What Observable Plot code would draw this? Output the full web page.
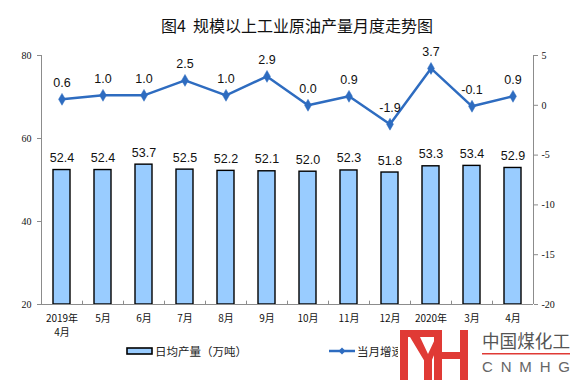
<!DOCTYPE html>
<html>
<head>
<meta charset="utf-8">
<script src="https://cdn.jsdelivr.net/npm/d3@7"></script>
<script src="https://cdn.jsdelivr.net/npm/@observablehq/plot@0.6"></script>
<style>
  html, body { margin: 0; padding: 0; background: #fff; }
  #wrap { position: relative; width: 576px; height: 384px; overflow: hidden; font-family: "Noto Sans CJK SC", "Liberation Sans", sans-serif; }
  #title { height: 40px; line-height: 50px; font-size: 16px; font-weight: normal; text-align: center; padding-left: 18px; color: #111; white-space: nowrap; }
  #legend { position: absolute; top: 341px; left: 0; width: 576px; height: 20px; font-size: 11.5px; color: #222; }
  .lg { position: absolute; top: 0; height: 20px; line-height: 20px; white-space: nowrap; }
  #wm { position: absolute; left: 398px; top: 326px; width: 178px; height: 58px; background: #fff; }
</style>
</head>
<body>
<div id="wrap">
  <div id="title">图4&nbsp;&nbsp;规模以上工业原油产量月度走势图</div>
  <div id="chart"></div>
  <div id="legend">
    <div class="lg" style="left:126px;">
      <svg width="27" height="20" style="vertical-align:top"><rect x="1" y="7" width="25" height="6" fill="#99ccff" stroke="#000" stroke-width="1.6"/></svg>
    </div>
    <div class="lg" style="left:155px;">日均产量（万吨）</div>
    <div class="lg" style="left:329px;">
      <svg width="27" height="20" style="vertical-align:top"><line x1="0" y1="10" x2="26" y2="10" stroke="#2e6cc0" stroke-width="2.5"/><path d="M13,6.5 L16.5,10 L13,13.5 L9.5,10 Z" fill="#2e6cc0"/></svg>
    </div>
    <div class="lg" style="left:357px;">当月增速（%）</div>
  </div>
  <div id="wm">
    <svg width="178" height="58">
      <g fill="#e03a35">
        <rect x="2" y="4" width="8" height="50"/>
        <rect x="2" y="4" width="42" height="7"/>
        <polygon points="12,11 22,11 30,28 38,11 44,11 33,36 27,36"/>
        <rect x="26" y="30" width="8" height="24"/>
        <rect x="36" y="4" width="8" height="50"/>
        <rect x="36" y="26" width="34" height="7"/>
        <rect x="62" y="4" width="8" height="50"/>
      </g>
      <text x="84" y="22" font-family="Noto Sans CJK SC" font-size="18" fill="#555" textLength="88" lengthAdjust="spacingAndGlyphs">中国煤化工</text>
      <rect x="84" y="27" width="88" height="1.5" fill="#e03a35"/>
      <text x="84" y="46" font-family="Liberation Sans" font-size="15" fill="#666" textLength="88" lengthAdjust="spacing">CNMHG</text>
    </svg>
  </div>
</div>
<script>
const months = ["2019年\n4月", "5月", "6月", "7月", "8月", "9月", "10月", "11月", "12月", "2020年\n1-2月", "3月", "4月"];
const output = [52.4, 52.4, 53.7, 52.5, 52.2, 52.1, 52.0, 52.3, 51.8, 53.3, 53.4, 52.9];
const growth = [0.6, 1.0, 1.0, 2.5, 1.0, 2.9, 0.0, 0.9, -1.9, 3.7, -0.1, 0.9];
const leftTicks = [20, 40, 60, 80];
const rightTicks = [-20, -15, -10, -5, 0, 5];

// right axis (-20..5) mapped onto left axis (20..80)
const toLeft = v => 20 + (v + 20) * 60 / 25;
const toRight = y => (y - 20) * 25 / 60 - 20;

const data = months.map((m, i) => ({m, out: output[i], g: growth[i], gy: toLeft(growth[i])}));

const axisColor = "#8c8c8c";
const lineColor = "#2e6cc0";

const plot = Plot.plot({
  width: 576,
  height: 300,
  marginTop: 15,
  marginBottom: 36,
  marginLeft: 41,
  marginRight: 43,
  style: {background: "#fff", color: "#111"},
  x: {domain: months, padding: 0, label: null},
  y: {domain: [20, 80], label: null},
  marks: [
    Plot.barY(data, {x: "m", y1: 20, y2: "out", fill: "#99ccff", stroke: "#000", strokeWidth: 1.4, insetLeft: 12, insetRight: 12}),
    Plot.ruleY([20], {stroke: axisColor, strokeWidth: 1}),
    Plot.ruleX([months[0]], {y1: 20, y2: 80, dx: -20.5, stroke: axisColor}),
    Plot.ruleX([months[months.length - 1]], {y1: 20, y2: 80, dx: 20.5, stroke: axisColor}),
    Plot.ruleX(months.slice(0, -1), {y1: 20, y2: 20.8, dx: 20.5, stroke: axisColor}),
    Plot.text(data, {x: "m", y: "out", text: d => d.out.toFixed(1), dy: -12, fontSize: 12.5, fontFamily: "Liberation Sans, Arial, sans-serif", fill: "#111"}),
    Plot.line(data, {x: "m", y: "gy", stroke: lineColor, strokeWidth: 2.5}),
    Plot.dot(data, {x: "m", y: "gy", symbol: "diamond", r: 3.6, fill: lineColor, stroke: lineColor, strokeWidth: 0.5}),
    Plot.text(data, {x: "m", y: "gy", text: d => d.g.toFixed(1), dy: -16, fontSize: 12.5, fontFamily: "Liberation Sans, Arial, sans-serif", fill: "#111"}),
    Plot.axisY({ticks: leftTicks, tickSize: 4, tickPadding: 6, stroke: axisColor, fontSize: 10, fontFamily: "Liberation Serif, serif", label: null}),
    Plot.axisY({anchor: "right", ticks: rightTicks.map(toLeft), tickFormat: y => String(Math.round(toRight(y))), tickSize: 4, tickPadding: 4, stroke: axisColor, fontSize: 10, fontFamily: "Liberation Serif, serif", label: null}),
    Plot.axisX({tickSize: 0, tickPadding: 8, fontSize: 10, fontFamily: "Noto Sans CJK SC, sans-serif", label: null, lineHeight: 1.4})
  ]
});
document.getElementById("chart").appendChild(plot);
</script>
</body>
</html>
